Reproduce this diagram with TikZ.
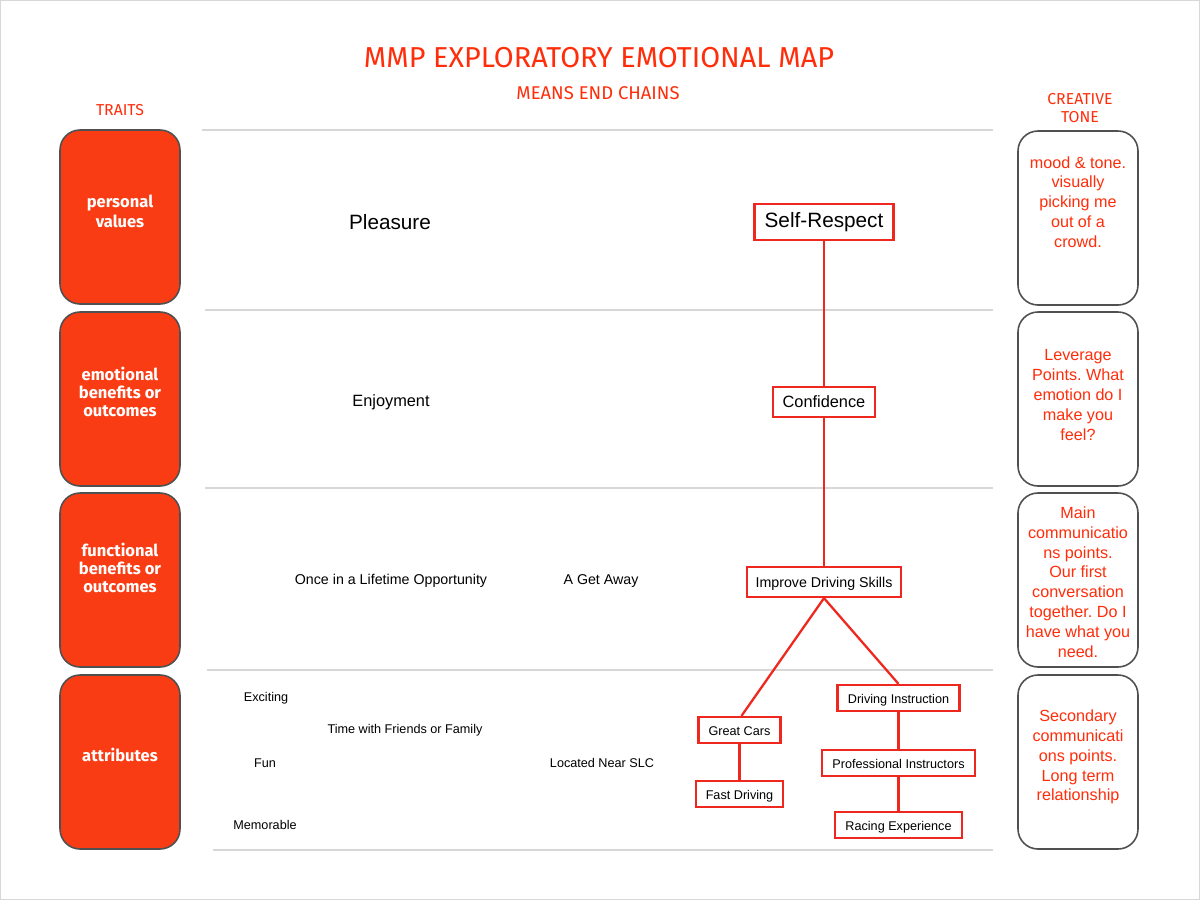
\documentclass[tikz,border=0pt]{standalone}
\usepackage{fontspec}
\setmainfont{Liberation Sans}
\newfontfamily\titlefont{Fira Sans}
\newfontfamily\boldfont{Fira Sans}
\frenchspacing
\definecolor{mred}{RGB}{250,60,20}
\definecolor{tred}{RGB}{255,45,10}
\definecolor{lred}{RGB}{238,40,30}
\definecolor{hline}{RGB}{215,215,215}
\definecolor{bgray}{RGB}{80,80,80}
\begin{document}
\begin{tikzpicture}[x=0.02cm,y=-0.02cm,
  trait/.style={draw=bgray,line width=0.9pt,fill=mred,rounded corners=0.4cm},
  tone/.style={draw=bgray,line width=0.9pt,fill=white,rounded corners=0.4cm},
  traittext/.style={text=white,align=center,font=\boldfont\bfseries\fontsize{9.4}{10}\selectfont},
  tonetext/.style={text=tred,align=center,font=\frenchspacing\fontsize{9.2}{11.3}\selectfont},
  chainbox/.style={draw=lred,line width=1.3pt,inner sep=0pt,anchor=center,text height=1.5ex,text depth=0.3ex},
  chain/.style={draw=lred,line width=1.3pt},
  sep/.style={draw=hline,line width=0.8pt},
  lbl/.style={text=black,inner sep=0pt}
]
\useasboundingbox (0,0) rectangle (1200,900);
\draw[draw=hline,line width=0.6pt] (0.5,0.5) rectangle (1199.5,899.5);

% titles
\node[text=tred,font=\titlefont\fontsize{16.4}{18}\selectfont] (title) at (599,58) {MMP EXPLORATORY EMOTIONAL MAP};
\node[text=tred,font=\titlefont\fontsize{10.5}{12}\selectfont] (sub) at (598,93) {MEANS END CHAINS};
\node[text=tred,font=\titlefont\fontsize{9}{10}\selectfont] (traits) at (120,110) {TRAITS};
\node[text=tred,align=center,font=\titlefont\fontsize{9}{10}\selectfont] (ctone) at (1080,108) {CREATIVE\\TONE};

% separators
\draw[sep] (202,130) -- (993,130);
\draw[sep] (205,310) -- (993,310);
\draw[sep] (205,488) -- (993,488);
\draw[sep] (207,670) -- (993,670);
\draw[sep] (213,850) -- (993,850);

% left trait boxes
\draw[trait] (60,130) rectangle (180,304);
\draw[trait] (60,312) rectangle (180,486);
\draw[trait] (60,493) rectangle (180,667);
\draw[trait] (60,675) rectangle (180,849);
\node[traittext,font=\boldfont\bfseries\fontsize{9.4}{11.3}\selectfont] (t1) at (120,211) {personal\\values};
\node[traittext] (t2) at (120,392) {emotional\\benefits or\\outcomes};
\node[traittext] (t3) at (120,568) {functional\\benefits or\\outcomes};
\node[traittext] (t4) at (120,755) {attributes};

% right tone boxes
\draw[tone] (1018,131) rectangle (1138,305);
\draw[tone] (1018,312) rectangle (1138,486);
\draw[tone] (1018,493) rectangle (1138,667);
\draw[tone] (1018,675) rectangle (1138,849);
\node[tonetext] (c1) at (1078,202) {mood \& tone.\\visually\\picking me\\out of a\\crowd.};
\node[tonetext] (c2) at (1078,395) {Leverage\\Points. What\\emotion do I\\make you\\feel?};
\node[tonetext] (c3) at (1078,582) {Main\\communicatio\\ns points.\\Our first\\conversation\\together. Do I\\have what you\\need.};
\node[tonetext] (c4) at (1078,757) {Secondary\\communicati\\ons points.\\Long term\\relationship};

% plain labels
\node[lbl,font=\fontsize{11.8}{13}\selectfont] (pleasure) at (390,222) {Pleasure};
\node[lbl,font=\fontsize{9.3}{11}\selectfont] (enjoy) at (391,402) {Enjoyment};
\node[lbl,font=\fontsize{8.1}{10}\selectfont] (once) at (391,581) {Once in a Lifetime Opportunity};
\node[lbl,font=\fontsize{8.1}{10}\selectfont] (getaway) at (601,581) {A Get Away};
\node[lbl,font=\fontsize{7.2}{9}\selectfont] (exciting) at (266,698) {Exciting};
\node[lbl,font=\fontsize{7.2}{9}\selectfont] (time) at (405,730) {Time with Friends or Family};
\node[lbl,font=\fontsize{7.2}{9}\selectfont] (fun) at (265,763) {Fun};
\node[lbl,font=\fontsize{7.2}{9}\selectfont] (slc) at (602,763) {Located Near SLC};
\node[lbl,font=\fontsize{7.2}{9}\selectfont] (memo) at (265,825) {Memorable};

% chain boxes
\node[chainbox,font=\fontsize{11.8}{13}\selectfont,minimum width=2.78cm,minimum height=0.72cm] (self) at (824,222) {Self-Respect};
\node[chainbox,font=\fontsize{9.3}{11}\selectfont,minimum width=2.04cm,minimum height=0.6cm] (conf) at (824,402) {Confidence};
\node[chainbox,font=\fontsize{8.1}{10}\selectfont,minimum width=3.08cm,minimum height=0.6cm] (improve) at (824,582) {Improve Driving Skills};
\node[chainbox,font=\fontsize{7.2}{9}\selectfont,minimum width=2.44cm,minimum height=0.52cm] (instr) at (898.5,698) {Driving Instruction};
\node[chainbox,font=\fontsize{7.2}{9}\selectfont,minimum width=1.64cm,minimum height=0.52cm] (cars) at (739.5,730) {Great Cars};
\node[chainbox,font=\fontsize{7.2}{9}\selectfont,minimum width=3.06cm,minimum height=0.52cm] (prof) at (898.5,763) {Professional Instructors};
\node[chainbox,font=\fontsize{7.2}{9}\selectfont,minimum width=1.74cm,minimum height=0.52cm] (fast) at (739.5,794) {Fast Driving};
\node[chainbox,font=\fontsize{7.2}{9}\selectfont,minimum width=2.54cm,minimum height=0.52cm] (racing) at (898.5,825) {Racing Experience};

% connectors
\draw[chain] (self.south) -- (conf.north);
\draw[chain] (conf.south) -- (improve.north);
\draw[chain] (improve.south) -- ([xshift=0.04cm]cars.north);
\draw[chain] (improve.south) -- (instr.north);
\draw[chain] (cars.south) -- (fast.north);
\draw[chain] (instr.south) -- (prof.north);
\draw[chain] (prof.south) -- (racing.north);
\end{tikzpicture}
\end{document}
